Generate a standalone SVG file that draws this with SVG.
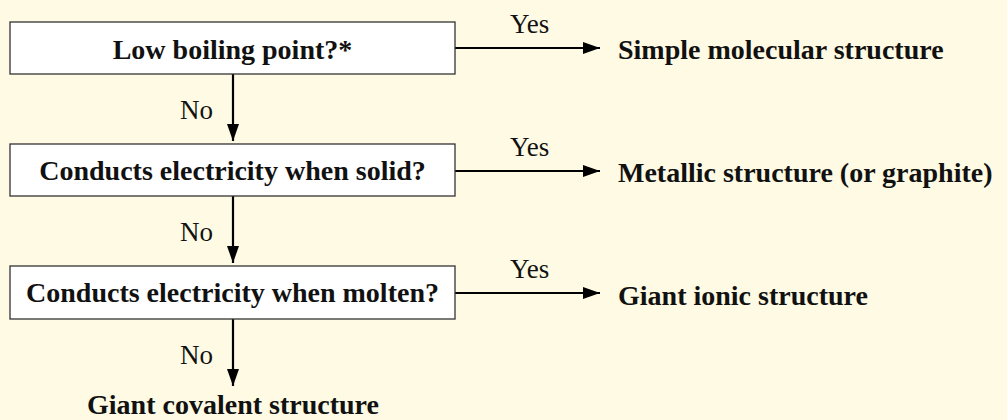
<svg xmlns="http://www.w3.org/2000/svg" width="1007" height="420" viewBox="0 0 1007 420">
<defs>
<style>
.box{fill:#ffffff;stroke:#333333;stroke-width:1.3}
.q{font-family:"Liberation Serif","Times New Roman",serif;font-weight:bold;font-size:28px;fill:#111;text-anchor:middle}
.r{font-family:"Liberation Serif","Times New Roman",serif;font-weight:bold;font-size:28px;fill:#111}
.lbl{font-family:"Liberation Serif","Times New Roman",serif;font-size:27px;fill:#111}
.ln{stroke:#000;stroke-width:2.2;fill:none}
</style>
<marker id="ah" markerUnits="userSpaceOnUse" markerWidth="17" markerHeight="12" refX="17" refY="6" orient="auto">
<path d="M0,0 L17,6 L0,12 Z" fill="#000"/>
</marker>
</defs>
<rect width="1007" height="420" fill="#fefae3"/>
<g id="connectors">
<line class="ln" x1="233" y1="74" x2="233" y2="141" marker-end="url(#ah)"/>
<line class="ln" x1="233" y1="196" x2="233" y2="263" marker-end="url(#ah)"/>
<line class="ln" x1="233" y1="319" x2="233" y2="386" marker-end="url(#ah)"/>
<line class="ln" x1="455" y1="48" x2="600" y2="48" marker-end="url(#ah)"/>
<line class="ln" x1="455" y1="171" x2="600" y2="171" marker-end="url(#ah)"/>
<line class="ln" x1="455" y1="293" x2="600" y2="293" marker-end="url(#ah)"/>
<text class="lbl" x="180" y="119">No</text>
<text class="lbl" x="180" y="241">No</text>
<text class="lbl" x="180" y="364">No</text>
<text class="lbl" x="510" y="33">Yes</text>
<text class="lbl" x="510" y="156">Yes</text>
<text class="lbl" x="510" y="278">Yes</text>
</g>
<g id="q1">
<rect class="box" x="10" y="22" width="445" height="52"/>
<text class="q" x="232.5" y="59">Low boiling point?*</text>
</g>
<g id="q2">
<rect class="box" x="10" y="144" width="445" height="52"/>
<text class="q" x="232.5" y="180">Conducts electricity when solid?</text>
</g>
<g id="q3">
<rect class="box" x="10" y="266" width="445" height="53"/>
<text class="q" x="232.5" y="302">Conducts electricity when molten?</text>
</g>
<g id="r1"><text class="r" x="618" y="59">Simple molecular structure</text></g>
<g id="r2"><text class="r" x="618" y="182">Metallic structure (or graphite)</text></g>
<g id="r3"><text class="r" x="618" y="305">Giant ionic structure</text></g>
<g id="r4"><text class="q" x="233" y="414">Giant covalent structure</text></g>
</svg>
